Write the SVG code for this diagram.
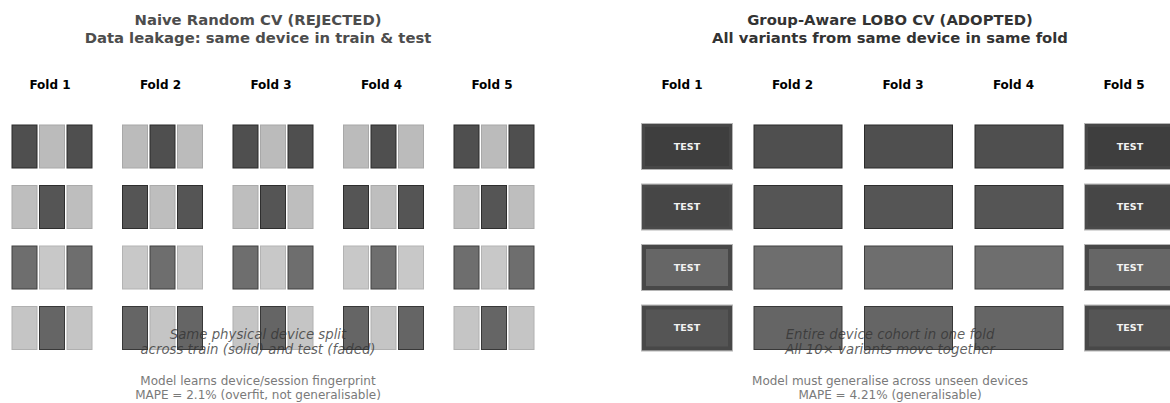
<svg xmlns="http://www.w3.org/2000/svg" width="1170" height="403" viewBox="0 0 1170 403">
  <style>
    text { font-family: "DejaVu Sans", "Liberation Sans", sans-serif; }
    .title { font-size: 14.8px; font-weight: bold; text-anchor: middle; }
    .t-left { fill: #4d4d4d; }
    .t-right { fill: #333333; }
    .fold { font-size: 12px; font-weight: bold; fill: #000; text-anchor: middle; }
    .note { font-size: 13.3px; font-style: italic; fill: #333; fill-opacity: 0.78; text-anchor: middle; }
    .foot { font-size: 12px; fill: #7a7a7a; text-anchor: middle; }
    .test { font-size: 9.5px; font-weight: bold; fill: #f2f2f2; text-anchor: middle; }
    .d1 { fill: #4f4f4f; stroke: #2b2b2b; stroke-width: 1; }
    .d2 { fill: #555555; stroke: #2e2e2e; stroke-width: 1; }
    .d3 { fill: #6e6e6e; stroke: #404040; stroke-width: 1; }
    .d4 { fill: #656565; stroke: #383838; stroke-width: 1; }
    .l1 { fill: #bbbbbb; stroke: #a8a8a8; stroke-width: 1; }
    .l2 { fill: #bebebe; stroke: #aaaaaa; stroke-width: 1; }
    .l3 { fill: #c8c8c8; stroke: #b3b3b3; stroke-width: 1; }
    .l4 { fill: #c5c5c5; stroke: #b0b0b0; stroke-width: 1; }
    .x1 { fill: #3e3e3e; stroke: #474747; stroke-width: 3; }
    .x2 { fill: #464646; stroke: #4a4a4a; stroke-width: 3; }
    .x3 { fill: #666666; stroke: #484848; stroke-width: 4; }
    .x4 { fill: #555555; stroke: #484848; stroke-width: 4; }
    .halo { fill: none; stroke: #b5b5b5; stroke-width: 1; }
  </style>

  <!-- Left panel: naive random CV -->
  <g id="left-title">
    <text class="title t-left" x="258" y="25">Naive Random CV (REJECTED)</text>
    <text class="title t-left" x="258" y="43">Data leakage: same device in train &amp; test</text>
  </g>
  <g id="left-fold-labels">
    <text class="fold" x="50" y="89">Fold 1</text>
    <text class="fold" x="160.5" y="89">Fold 2</text>
    <text class="fold" x="271" y="89">Fold 3</text>
    <text class="fold" x="381.5" y="89">Fold 4</text>
    <text class="fold" x="492" y="89">Fold 5</text>
  </g>

  <!-- row 1: D L D / L D L alternating by fold -->
  <g id="left-r1-f1"><rect class="d1" x="12" y="125" width="25" height="43"/><rect class="l1" x="39.5" y="125" width="25" height="43"/><rect class="d1" x="67" y="125" width="25" height="43"/></g>
  <g id="left-r1-f2"><rect class="l1" x="122.5" y="125" width="25" height="43"/><rect class="d1" x="150" y="125" width="25" height="43"/><rect class="l1" x="177.5" y="125" width="25" height="43"/></g>
  <g id="left-r1-f3"><rect class="d1" x="233" y="125" width="25" height="43"/><rect class="l1" x="260.5" y="125" width="25" height="43"/><rect class="d1" x="288" y="125" width="25" height="43"/></g>
  <g id="left-r1-f4"><rect class="l1" x="343.5" y="125" width="25" height="43"/><rect class="d1" x="371" y="125" width="25" height="43"/><rect class="l1" x="398.5" y="125" width="25" height="43"/></g>
  <g id="left-r1-f5"><rect class="d1" x="454" y="125" width="25" height="43"/><rect class="l1" x="481.5" y="125" width="25" height="43"/><rect class="d1" x="509" y="125" width="25" height="43"/></g>

  <!-- row 2 -->
  <g id="left-r2-f1"><rect class="l2" x="12" y="185.5" width="25" height="43"/><rect class="d2" x="39.5" y="185.5" width="25" height="43"/><rect class="l2" x="67" y="185.5" width="25" height="43"/></g>
  <g id="left-r2-f2"><rect class="d2" x="122.5" y="185.5" width="25" height="43"/><rect class="l2" x="150" y="185.5" width="25" height="43"/><rect class="d2" x="177.5" y="185.5" width="25" height="43"/></g>
  <g id="left-r2-f3"><rect class="l2" x="233" y="185.5" width="25" height="43"/><rect class="d2" x="260.5" y="185.5" width="25" height="43"/><rect class="l2" x="288" y="185.5" width="25" height="43"/></g>
  <g id="left-r2-f4"><rect class="d2" x="343.5" y="185.5" width="25" height="43"/><rect class="l2" x="371" y="185.5" width="25" height="43"/><rect class="d2" x="398.5" y="185.5" width="25" height="43"/></g>
  <g id="left-r2-f5"><rect class="l2" x="454" y="185.5" width="25" height="43"/><rect class="d2" x="481.5" y="185.5" width="25" height="43"/><rect class="l2" x="509" y="185.5" width="25" height="43"/></g>

  <!-- row 3 -->
  <g id="left-r3-f1"><rect class="d3" x="12" y="246" width="25" height="43"/><rect class="l3" x="39.5" y="246" width="25" height="43"/><rect class="d3" x="67" y="246" width="25" height="43"/></g>
  <g id="left-r3-f2"><rect class="l3" x="122.5" y="246" width="25" height="43"/><rect class="d3" x="150" y="246" width="25" height="43"/><rect class="l3" x="177.5" y="246" width="25" height="43"/></g>
  <g id="left-r3-f3"><rect class="d3" x="233" y="246" width="25" height="43"/><rect class="l3" x="260.5" y="246" width="25" height="43"/><rect class="d3" x="288" y="246" width="25" height="43"/></g>
  <g id="left-r3-f4"><rect class="l3" x="343.5" y="246" width="25" height="43"/><rect class="d3" x="371" y="246" width="25" height="43"/><rect class="l3" x="398.5" y="246" width="25" height="43"/></g>
  <g id="left-r3-f5"><rect class="d3" x="454" y="246" width="25" height="43"/><rect class="l3" x="481.5" y="246" width="25" height="43"/><rect class="d3" x="509" y="246" width="25" height="43"/></g>

  <!-- row 4 -->
  <g id="left-r4-f1"><rect class="l4" x="12" y="306.5" width="25" height="43"/><rect class="d4" x="39.5" y="306.5" width="25" height="43"/><rect class="l4" x="67" y="306.5" width="25" height="43"/></g>
  <g id="left-r4-f2"><rect class="d4" x="122.5" y="306.5" width="25" height="43"/><rect class="l4" x="150" y="306.5" width="25" height="43"/><rect class="d4" x="177.5" y="306.5" width="25" height="43"/></g>
  <g id="left-r4-f3"><rect class="l4" x="233" y="306.5" width="25" height="43"/><rect class="d4" x="260.5" y="306.5" width="25" height="43"/><rect class="l4" x="288" y="306.5" width="25" height="43"/></g>
  <g id="left-r4-f4"><rect class="d4" x="343.5" y="306.5" width="25" height="43"/><rect class="l4" x="371" y="306.5" width="25" height="43"/><rect class="d4" x="398.5" y="306.5" width="25" height="43"/></g>
  <g id="left-r4-f5"><rect class="l4" x="454" y="306.5" width="25" height="43"/><rect class="d4" x="481.5" y="306.5" width="25" height="43"/><rect class="l4" x="509" y="306.5" width="25" height="43"/></g>

  <g id="left-notes">
    <text class="note" x="258" y="339">Same physical device split</text>
    <text class="note" x="258" y="354">across train (solid) and test (faded)</text>
    <text class="foot" x="258" y="385">Model learns device/session fingerprint</text>
    <text class="foot" x="258" y="399">MAPE = 2.1% (overfit, not generalisable)</text>
  </g>

  <!-- Right panel: group-aware leave-one-batch-out CV -->
  <g id="right-title">
    <text class="title t-right" x="890" y="25">Group-Aware LOBO CV (ADOPTED)</text>
    <text class="title t-right" x="890" y="43">All variants from same device in same fold</text>
  </g>
  <g id="right-fold-labels">
    <text class="fold" x="682" y="89">Fold 1</text>
    <text class="fold" x="792.5" y="89">Fold 2</text>
    <text class="fold" x="903" y="89">Fold 3</text>
    <text class="fold" x="1013.5" y="89">Fold 4</text>
    <text class="fold" x="1124" y="89">Fold 5</text>
  </g>

  <!-- row 1 -->
  <g id="right-r1-f1"><rect class="halo" x="641.5" y="123.5" width="91" height="46"/><rect class="x1" x="643.5" y="125.5" width="87" height="42"/><text class="test" x="687" y="149.5">TEST</text></g>
  <g id="right-r1-f2"><rect class="d1" x="754" y="125" width="88" height="43"/></g>
  <g id="right-r1-f3"><rect class="d1" x="864.5" y="125" width="88" height="43"/></g>
  <g id="right-r1-f4"><rect class="d1" x="975" y="125" width="88" height="43"/></g>
  <g id="right-r1-f5"><rect class="halo" x="1084.5" y="123.5" width="91" height="46"/><rect class="x1" x="1086.5" y="125.5" width="87" height="42"/><text class="test" x="1130" y="149.5">TEST</text></g>

  <!-- row 2 -->
  <g id="right-r2-f1"><rect class="halo" x="641.5" y="184" width="91" height="46"/><rect class="x2" x="643.5" y="186" width="87" height="42"/><text class="test" x="687" y="210">TEST</text></g>
  <g id="right-r2-f2"><rect class="d2" x="754" y="185.5" width="88" height="43"/></g>
  <g id="right-r2-f3"><rect class="d2" x="864.5" y="185.5" width="88" height="43"/></g>
  <g id="right-r2-f4"><rect class="d2" x="975" y="185.5" width="88" height="43"/></g>
  <g id="right-r2-f5"><rect class="halo" x="1084.5" y="184" width="91" height="46"/><rect class="x2" x="1086.5" y="186" width="87" height="42"/><text class="test" x="1130" y="210">TEST</text></g>

  <!-- row 3 -->
  <g id="right-r3-f1"><rect class="halo" x="641.5" y="244.5" width="91" height="46"/><rect class="x3" x="644" y="247" width="86" height="41"/><text class="test" x="687" y="270.5">TEST</text></g>
  <g id="right-r3-f2"><rect class="d3" x="754" y="246" width="88" height="43"/></g>
  <g id="right-r3-f3"><rect class="d3" x="864.5" y="246" width="88" height="43"/></g>
  <g id="right-r3-f4"><rect class="d3" x="975" y="246" width="88" height="43"/></g>
  <g id="right-r3-f5"><rect class="halo" x="1084.5" y="244.5" width="91" height="46"/><rect class="x3" x="1087" y="247" width="86" height="41"/><text class="test" x="1130" y="270.5">TEST</text></g>

  <!-- row 4 -->
  <g id="right-r4-f1"><rect class="halo" x="641.5" y="305" width="91" height="46"/><rect class="x4" x="644" y="307.5" width="86" height="41"/><text class="test" x="687" y="331">TEST</text></g>
  <g id="right-r4-f2"><rect class="d4" x="754" y="306.5" width="88" height="43"/></g>
  <g id="right-r4-f3"><rect class="d4" x="864.5" y="306.5" width="88" height="43"/></g>
  <g id="right-r4-f4"><rect class="d4" x="975" y="306.5" width="88" height="43"/></g>
  <g id="right-r4-f5"><rect class="halo" x="1084.5" y="305" width="91" height="46"/><rect class="x4" x="1087" y="307.5" width="86" height="41"/><text class="test" x="1130" y="331">TEST</text></g>

  <g id="right-notes">
    <text class="note" x="890" y="339">Entire device cohort in one fold</text>
    <text class="note" x="890" y="354">All 10× variants move together</text>
    <text class="foot" x="890" y="385">Model must generalise across unseen devices</text>
    <text class="foot" x="890" y="399">MAPE = 4.21% (generalisable)</text>
  </g>
</svg>
